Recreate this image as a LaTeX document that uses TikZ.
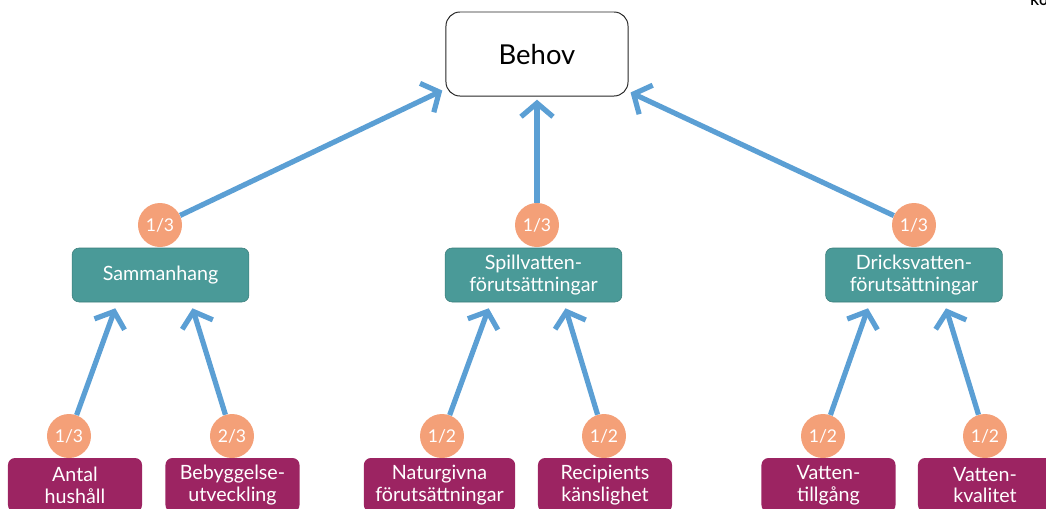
\documentclass[tikz,border=0pt]{standalone}
\usepackage{fontspec}
\setmainfont{Lato}
\usetikzlibrary{arrows.meta}
\definecolor{pilblue}{HTML}{5B9FD4}
\definecolor{viktorange}{HTML}{F4A078}
\definecolor{delteal}{HTML}{4A9A98}
\definecolor{delteallinje}{HTML}{3B7D7B}
\definecolor{faktorlila}{HTML}{9C2462}
\tikzset{
	pil/.style={-{Straight Barb[length=3.4mm,width=8mm]}, line width=3.7pt, pilblue},
	vikt/.style={circle, fill=viktorange, text=white, minimum size=1.1cm, inner sep=0pt, font=\fontsize{12.5}{14}\selectfont},
	delbox/.style={rounded corners=5pt, fill=delteal, draw=delteallinje, thin, text=white, minimum width=4.42cm, minimum height=1.35cm, align=center, font=\fontsize{14}{15.5}\selectfont},
	faktorbox/.style={rounded corners=5pt, fill=faktorlila, text=white, minimum width=3.35cm, minimum height=1.35cm, align=center, font=\fontsize{14}{15.5}\selectfont},
}
\begin{document}
\begin{tikzpicture}[x=0.025cm, y=-0.025cm]
			\useasboundingbox (0,0) rectangle (1046,508);
			% toppnod
			\node [draw=black!85, line width=0.7pt, rounded corners=10pt, minimum width=4.55cm, minimum height=2.1cm, font=\fontsize{19.5}{22}\selectfont] (behov) at (537,54) {Behov};
			% delkriterier
			\node [delbox] (samman) at (160.5,275) {Sammanhang};
			\node [delbox] (spill) at (533.5,275) {Spillvatten-\\förutsättningar};
			\node [delbox] (dricks) at (914,275) {Dricksvatten-\\förutsättningar};
			% faktorer
			\node [faktorbox] (antal) at (75,485) {Antal\\hushåll};
			\node [faktorbox] (bebygg) at (232.5,485) {Bebyggelse-\\utveckling};
			\node [faktorbox, minimum width=3.78cm] (natur) at (439.5,485) {Naturgivna\\förutsättningar};
			\node [faktorbox] (recip) at (605,485) {Recipients\\känslighet};
			\node [faktorbox] (tillg) at (828.5,485) {Vatten-\\tillgång};
			\node [faktorbox] (kval) at (985,485) {Vatten-\\kvalitet};
			% vikter
			\node [vikt] (v1) at (160,225) {1/3};
			\node [vikt] (v2) at (537,225) {1/3};
			\node [vikt] (v3) at (914,225) {1/3};
			\node [vikt] (v11) at (69,436) {1/3};
			\node [vikt] (v12) at (232,436) {2/3};
			\node [vikt] (v21) at (442,436) {1/2};
			\node [vikt] (v22) at (604,436) {1/2};
			\node [vikt] (v31) at (823,436) {1/2};
			\node [vikt] (v32) at (985,436) {1/2};
			\node [anchor=base west, font=\bfseries\small, inner sep=0pt] (ku) at (1030,5) {KU};
			\draw (v1) edge[pil] ([xshift=-0.08cm,yshift=0.15cm]behov.south west)
			(v2) edge[pil] ([yshift=-0.08cm]behov.south)
			(v3) edge[pil] ([xshift=0.05cm,yshift=0.1cm]behov.south east)
			(v11) edge[pil] ([xshift=-1.13cm,yshift=-0.15cm]samman.south)
			(v12) edge[pil] ([xshift=0.8cm,yshift=-0.15cm]samman.south)
			(v21) edge[pil] ([xshift=-1.12cm,yshift=-0.15cm]spill.south)
			(v22) edge[pil] ([xshift=0.8cm,yshift=-0.15cm]spill.south)
			(v31) edge[pil] ([xshift=-1.15cm,yshift=-0.15cm]dricks.south)
			(v32) edge[pil] ([xshift=0.8cm,yshift=-0.15cm]dricks.south);
		\end{tikzpicture}
\end{document}
